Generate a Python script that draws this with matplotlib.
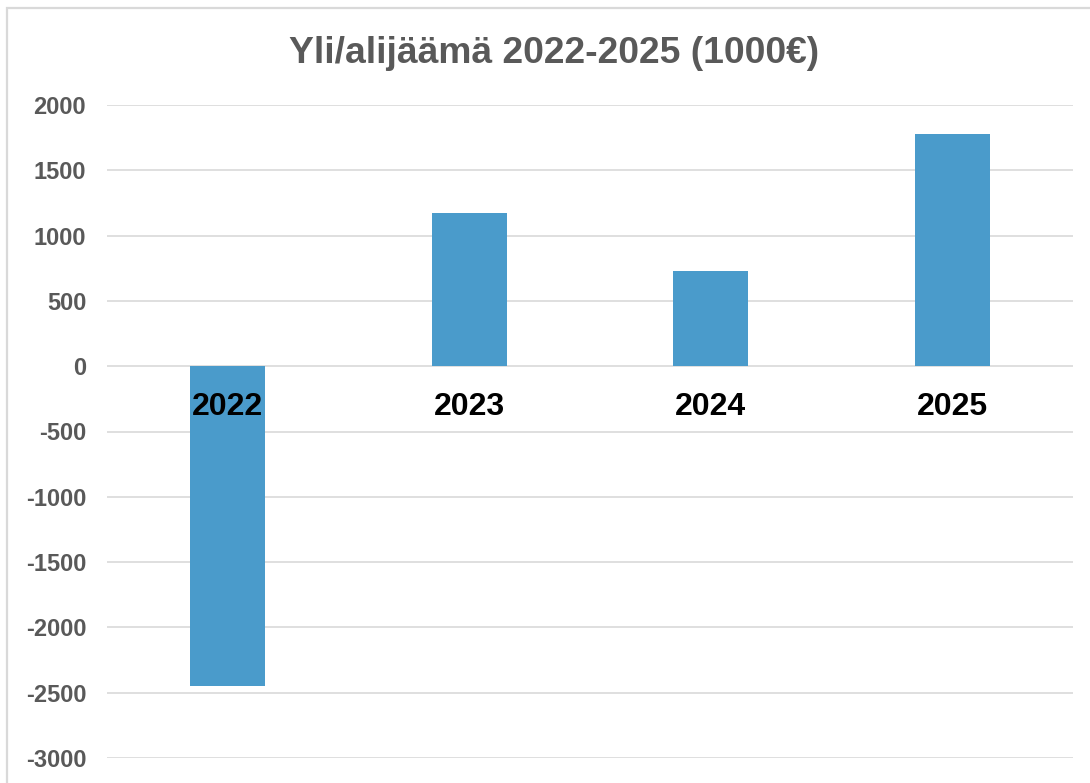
import matplotlib
matplotlib.use("Agg")
import matplotlib.pyplot as plt
from matplotlib.patches import Rectangle

years = ["2022", "2023", "2024", "2025"]
values = [-2450, 1170, 730, 1780]
yticks = [-3000, -2500, -2000, -1500, -1000, -500, 0, 500, 1000, 1500, 2000]

plt.rcParams['font.family'] = ['Liberation Sans', 'DejaVu Sans']
plt.rcParams['font.weight'] = 'bold'

W, H = 1090, 783
fig = plt.figure(figsize=(W / 100, H / 100), dpi=100)
fig.patch.set_facecolor('white')

# chart border (cropped on right and bottom)
fig.patches.append(Rectangle((7 / W, -0.1), 1.2, 1 - 8 / H + 0.1, transform=fig.transFigure,
                             fill=False, edgecolor='#d9d9d9', linewidth=1.6))

ax = fig.add_axes([107 / W, 1 - 758 / H, (1073 - 107) / W, (758 - 105) / H])
x = list(range(len(years)))
ax.bar(x, values, width=0.31, color='#4a9bcb', zorder=2)

ax.set_xlim(-0.5, len(years) - 0.5)
ax.set_ylim(-3000, 2000)
ax.set_yticks(yticks)
ax.set_yticklabels([str(v) for v in yticks], fontsize=17, fontweight='bold', color='#595959')
ax.tick_params(axis='y', length=0, pad=15)
ax.set_xticks([])
for v in yticks:
    ax.axhline(v, color='#d9d9d9', linewidth=1.2, zorder=1)
for s in ax.spines.values():
    s.set_visible(False)

for xi, yr in zip(x, years):
    ax.annotate(yr, (xi, 0), xytext=(0, -35), textcoords='offset points',
                ha='center', va='baseline', fontsize=23, fontweight='bold',
                color='black', zorder=3)

fig.text(554 / W, 1 - 63 / H, "Yli/alijäämä 2022-2025 (1000€)", ha='center', va='baseline',
         fontsize=26.8, fontweight='bold', color='#595959')

fig.savefig("out.png", dpi=100)
